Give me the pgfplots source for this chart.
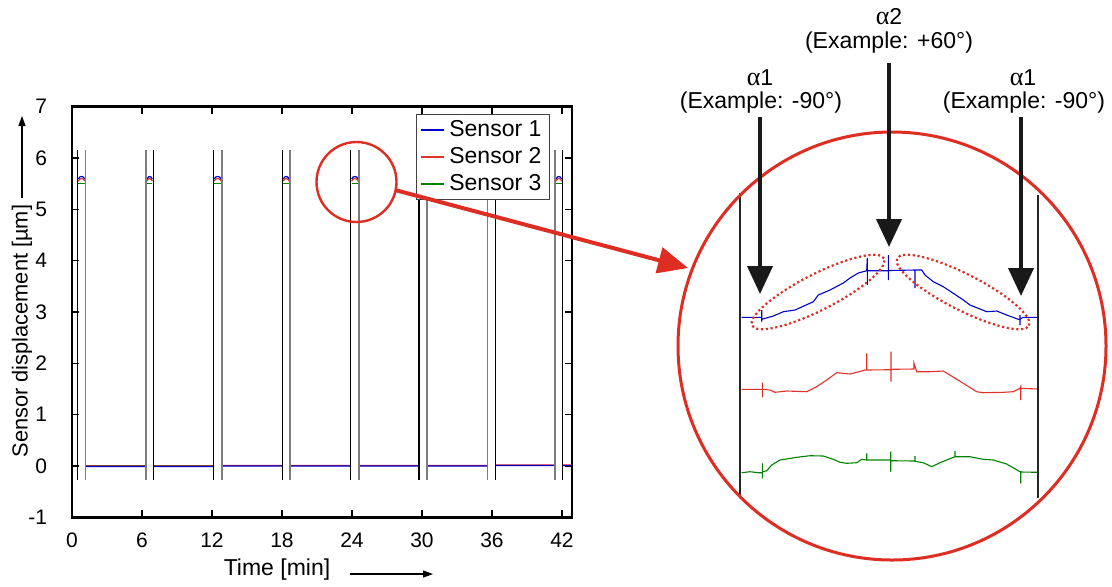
\documentclass[border=0pt]{standalone}
\usepackage{fontspec}
\setmainfont{Liberation Sans}
\newfontfamily\greekfont{Liberation Serif}
\usepackage{pgfplots}
\pgfplotsset{compat=1.18}
\usetikzlibrary{arrows.meta}
\definecolor{sblue}{RGB}{0,0,205}
\definecolor{sred}{RGB}{225,50,40}
\definecolor{sgreen}{RGB}{0,130,0}
\definecolor{annred}{RGB}{222,45,35}
\definecolor{pairgray}{RGB}{125,125,125}

\begin{document}
\begin{tikzpicture}
\path[use as bounding box] (0,0) rectangle (556pt,-293pt);

% measurement overview
\begin{axis}[
  at={(36pt,-258.65pt)}, anchor=south west,
  scale only axis, width=250pt, height=205.3pt,
  xmin=0, xmax=42.86, ymin=-1, ymax=7,
  xtick={0,6,...,42}, ytick={-1,0,...,7},
  axis line style={line width=1.3pt},
  tick style={line width=0.6pt, black},
  major tick length=3.5pt,
  tick label style={font=\fontsize{10.5}{12}\selectfont},
  xticklabel style={yshift=-4pt},
  yticklabel style={xshift=-9pt},
  /pgf/number format/assume math mode=true,
  unbounded coords=jump,
  reverse legend,
  legend cell align=left,
  legend style={at={(0.956,0.982)}, anchor=north east, draw=black!75,
    line width=0.6pt, font=\fontsize{11.5}{13.5}\selectfont,
    inner xsep=2pt, inner ysep=1pt, row sep=0pt},
  legend image code/.code={\draw[#1, line width=1.1pt] (0cm,0cm) -- (0.4cm,0cm);},
]
\addplot[sgreen, line width=0.6pt] coordinates {
 (0.54,5.51) (1.09,5.51) (1.5,nan)
 (6.42,5.51) (6.89,5.51) (7.5,nan)
 (12.19,5.51) (12.78,5.51) (13.5,nan)
 (18.11,5.51) (18.61,5.51) (19.5,nan)
 (23.97,5.51) (24.52,5.51) (25.5,nan)
 (29.82,5.51) (30.35,5.51) (31.5,nan)
 (35.68,5.51) (36.22,5.51) (37.5,nan)
 (41.48,5.51) (41.98,5.51) (42.2,nan)
 (1.17,0) (6.34,0) (6.5,nan) (6.97,0) (12.11,0) (12.5,nan)
 (12.86,0.01) (18.03,0.01) (18.3,nan) (18.69,0.01) (23.89,0.01) (24.2,nan)
 (24.60,0.01) (29.74,0.01) (30.1,nan) (30.43,0.01) (35.60,0.01) (35.9,nan)
 (36.30,0.01) (41.40,0.01) (41.7,nan) (42.06,0.01) (42.86,0.01)
};
\addlegendentry{Sensor 3}
\addplot[sred, line width=0.6pt] coordinates {
 (0.54,5.55) (0.66,5.59) (0.815,5.60) (0.97,5.59) (1.09,5.55) (1.5,nan)
 (6.42,5.55) (6.54,5.59) (6.655,5.60) (6.77,5.59) (6.89,5.55) (7.5,nan)
 (12.19,5.55) (12.31,5.59) (12.485,5.60) (12.66,5.59) (12.78,5.55) (13.5,nan)
 (18.11,5.55) (18.23,5.59) (18.36,5.60) (18.49,5.59) (18.61,5.55) (19.5,nan)
 (23.97,5.55) (24.09,5.59) (24.245,5.60) (24.40,5.59) (24.52,5.55) (25.5,nan)
 (29.82,5.55) (29.94,5.59) (30.085,5.60) (30.23,5.59) (30.35,5.55) (31.5,nan)
 (35.68,5.55) (35.80,5.59) (35.95,5.60) (36.10,5.59) (36.22,5.55) (37.5,nan)
 (41.48,5.55) (41.60,5.59) (41.73,5.60) (41.86,5.59) (41.98,5.55) (42.2,nan)
 (1.17,0) (6.34,0) (6.5,nan) (6.97,0) (12.11,0) (12.5,nan)
 (12.86,0.01) (18.03,0.01) (18.3,nan) (18.69,0.01) (23.89,0.01) (24.2,nan)
 (24.60,0.01) (29.74,0.01) (30.1,nan) (30.43,0.01) (35.60,0.01) (35.9,nan)
 (36.30,0.02) (41.40,0.02) (41.7,nan) (42.06,0.02) (42.86,0.02)
};
\addlegendentry{Sensor 2}
\addplot[sblue, line width=0.6pt] coordinates {
 (0.54,5.59) (0.66,5.63) (0.815,5.64) (0.97,5.63) (1.09,5.59) (1.5,nan)
 (6.42,5.59) (6.54,5.63) (6.655,5.64) (6.77,5.63) (6.89,5.59) (7.5,nan)
 (12.19,5.59) (12.31,5.63) (12.485,5.64) (12.66,5.63) (12.78,5.59) (13.5,nan)
 (18.11,5.59) (18.23,5.63) (18.36,5.64) (18.49,5.63) (18.61,5.59) (19.5,nan)
 (23.97,5.59) (24.09,5.63) (24.245,5.64) (24.40,5.63) (24.52,5.59) (25.5,nan)
 (29.82,5.59) (29.94,5.63) (30.085,5.64) (30.23,5.63) (30.35,5.59) (31.5,nan)
 (35.68,5.59) (35.80,5.63) (35.95,5.64) (36.10,5.63) (36.22,5.59) (37.5,nan)
 (41.48,5.59) (41.60,5.63) (41.73,5.64) (41.86,5.63) (41.98,5.59) (42.2,nan)
 (1.17,-0.01) (6.34,-0.01) (6.5,nan) (6.97,-0.01) (12.11,-0.01) (12.5,nan)
 (12.86,0) (18.03,0) (18.3,nan) (18.69,0) (23.89,0) (24.2,nan)
 (24.60,0) (29.74,0) (30.1,nan) (30.43,0) (35.60,0) (35.9,nan)
 (36.30,0.01) (41.40,0.01) (41.7,nan) (42.06,0.01) (42.86,0.01)
};
\addlegendentry{Sensor 1}
% rotation boundaries
\addplot[black, line width=0.55pt, forget plot] coordinates {
 (0.46,-0.27) (0.46,6.16) (0.6,nan) (6.97,-0.27) (6.97,6.16) (7.2,nan)
 (12.11,-0.27) (12.11,6.16) (12.3,nan) (18.03,-0.27) (18.03,6.16) (18.2,nan)
 (23.89,-0.27) (23.89,6.16) (24.1,nan) (29.74,-0.27) (29.74,6.16) (29.9,nan)
 (36.30,-0.27) (36.30,6.16) (36.5,nan) (42.06,-0.27) (42.06,6.16)
};
\addplot[pairgray, line width=0.7pt, forget plot] coordinates {
 (1.17,-0.27) (1.17,6.16) (1.3,nan) (6.34,-0.27) (6.34,6.16) (6.5,nan)
 (12.86,-0.27) (12.86,6.16) (13.0,nan) (18.69,-0.27) (18.69,6.16) (18.9,nan)
 (24.60,-0.27) (24.60,6.16) (24.8,nan) (30.43,-0.27) (30.43,6.16) (30.6,nan)
 (35.60,-0.27) (35.60,6.16) (35.8,nan) (41.40,-0.27) (41.40,6.16)
};
\end{axis}

% magnified view of one rotation
\begin{axis}[
  at={(370pt,-250pt)}, anchor=south west,
  scale only axis, width=149pt, height=155pt,
  xmin=0, xmax=298, ymin=0, ymax=310,
  hide axis, clip=false,
]
\addplot[sblue, line width=0.55pt] coordinates {
 (1.7,182.7) (21.7,182.7) (21.7,190) (21.7,178.3) (21.7,180.7) (33.3,184)
 (43.3,188.3) (55,190) (73.3,198.3) (78.3,205) (90,210) (103.3,217)
 (110,222) (118.3,227) (126.7,229.3) (127.3,242) (127.3,215) (127.3,229.3)
 (148.3,229.3) (148.3,245) (148.3,220) (148.3,229.5) (175,230) (175,212)
 (175,230) (181.7,230) (185,225) (193.3,218.3) (203.3,213.3) (223.3,200)
 (230,195) (246.7,188.3) (256.7,189) (266.7,185) (278.3,180.7) (280,180.7)
 (280,185) (280,175) (280,181) (283.3,182.7) (298,182.7)
};
\addplot[sred, line width=0.55pt] coordinates {
 (1.7,110.7) (22.3,110.7) (22.3,117.3) (22.3,102.7) (22.3,110.7) (30,110)
 (35,107.7) (46.7,109) (66.7,108.3) (76.7,113.3) (86.7,120) (96.7,127.3)
 (110,126) (116.7,127.7) (125,130) (126.7,130) (126.7,146.7) (126.7,130)
 (151,130.3) (151,148.3) (151,118.3) (151,130.7) (174,131) (174,136.7)
 (176.7,128.3) (190,128.3) (203.3,129) (223.3,116.7) (236.7,108.3)
 (243.3,107.3) (263.3,107.7) (273.3,108.3) (280,111.7) (280.7,113.3)
 (280.7,100) (280.7,111.7) (298,111)
};
\addplot[sgreen, line width=0.55pt] coordinates {
 (1.7,27.3) (10,28.3) (18.3,27.3) (22.3,27.3) (22.3,36.7) (22.3,21.7)
 (22.3,28) (26.7,29.3) (31.7,35) (40,40) (56.7,42.7) (70,44.3) (83.3,44)
 (93.3,40.7) (100,37.7) (106.7,36.7) (116.7,37.3) (121.7,40.7) (126.7,40)
 (126.7,46.7) (126.7,40) (150.7,40) (150.7,48.3) (150.7,28.3) (150.7,39.3)
 (175,39) (175,44) (175,38.7) (183.3,37.3) (191.7,33.3) (200,37.3)
 (215,43.3) (215,49) (215,43.3) (230,43.3) (243.3,40.7) (253.3,40)
 (266.7,36) (280,28.3) (280.7,28.3) (280.7,16.7) (280.7,28) (298,27.7)
};
\addplot[black!85, line width=1.4pt] coordinates {(0,3) (0,307)};
\addplot[black!85, line width=1.4pt] coordinates {(298,2) (298,305)};
\end{axis}

% annotations (pixel grid of the figure)
\begin{scope}[x=0.5pt, y=-0.5pt]
\node[rotate=90, font=\fontsize{10.9}{13}\selectfont] at (22,331) {Sensor displacement [µm]};
\draw[line width=0.6pt, -{Triangle[length=5pt,width=3.5pt]}] (22,198) -- (22,116);
\node[font=\fontsize{11.5}{13}\selectfont] at (277,570) {Time [min]};
\draw[line width=0.6pt, -{Triangle[length=5pt,width=3.5pt]}] (350,574) -- (433,574);

\draw[annred, line width=1.2pt] (356.5,182) circle[radius=20pt];
\draw[annred, line width=2pt, -{Triangle[length=15pt,width=13pt]}] (395,190) -- (688,268);
\draw[annred, line width=1.5pt] (892,346) circle[radius=107pt];

\draw[black!90, line width=2pt, -{Triangle[length=14pt,width=12.5pt]}] (760,117) -- (760,294);
\draw[black!90, line width=2pt, -{Triangle[length=14pt,width=12.5pt]}] (889,63) -- (889,247);
\draw[black!90, line width=2pt, -{Triangle[length=14pt,width=12.5pt]}] (1021,117) -- (1021,296);

\node[font=\fontsize{11.5}{13}\selectfont] at (760,78) {{\greekfont\fontsize{13}{13}\selectfont α}1};
\node[font=\fontsize{11.5}{13}\selectfont] at (761,103) {(Example: -90°)};
\node[font=\fontsize{11.5}{13}\selectfont] at (889,17) {{\greekfont\fontsize{13}{13}\selectfont α}2};
\node[font=\fontsize{11.5}{13}\selectfont] at (889,43) {(Example: +60°)};
\node[font=\fontsize{11.5}{13}\selectfont] at (1023,78) {{\greekfont\fontsize{13}{13}\selectfont α}1};
\node[font=\fontsize{11.5}{13}\selectfont] at (1024,103) {(Example: -90°)};
\end{scope}

\draw[annred, line width=1.1pt, dash pattern=on 1.1pt off 1.3pt]
  (409pt,-146pt) ellipse[x radius=37pt, y radius=9pt, rotate=27];
\draw[annred, line width=1.1pt, dash pattern=on 1.1pt off 1.3pt]
  (481.5pt,-146pt) ellipse[x radius=37pt, y radius=9pt, rotate=-27];
\end{tikzpicture}
\end{document}
